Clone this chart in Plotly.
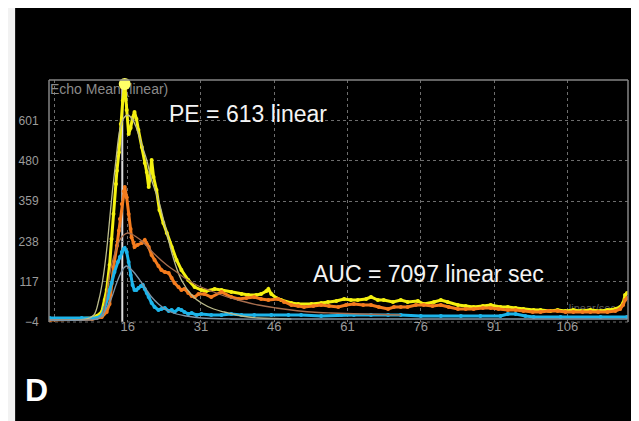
import plotly.graph_objects as go

# ---------------- data (time in s, echo mean in linear units) ----------------
yellow_t = [0, 4.6, 8.7, 9.7, 10.7, 11.3, 11.7, 12.3, 12.7, 13.1, 13.6, 13.8, 14.2, 14.6, 15.0,
            15.4, 15.8, 16.2, 16.6, 17.0, 17.4, 17.8, 18.2, 18.9, 19.5, 19.9, 20.3, 20.5, 20.9,
            21.3, 21.9, 22.5, 23.3, 24.0, 25.0, 26.0, 27.0, 28.4, 29.7, 31.1, 32.1, 33.8, 35.2,
            37.2, 39.3, 40.7, 42.3, 43.3, 44.4, 44.8, 45.4, 46.4, 47.4, 49.5, 50.9, 53.6, 55.6,
            57.0, 58.7, 60.3, 61.7, 63.1, 64.8, 65.8, 67.2, 68.4, 70.3, 71.9, 73.3, 75.4, 76.6,
            78.7, 80.1, 81.5, 83.6, 85.2, 86.8, 88.7, 90.3, 92.3, 93.8, 95.4, 97.0, 99.1, 100.5,
            102.5, 104.0, 105.6, 107.2, 108.7, 110.7, 112.8, 114.2, 115.8, 116.8, 117.4, 117.8, 118.2]
yellow_v = [5, 5, 8, 14, 26, 62, 92, 167, 245, 320, 410, 450, 505, 590, 660,
            710, 632, 560, 578, 608, 626, 605, 572, 521, 473, 446, 401, 422, 482,
            431, 392, 332, 293, 263, 221, 182, 152, 122, 101, 92, 89, 95, 92,
            86, 80, 77, 77, 80, 89, 95, 80, 68, 62, 53, 50, 50, 53,
            56, 59, 65, 62, 62, 65, 71, 62, 62, 56, 62, 56, 59, 50,
            56, 62, 56, 47, 44, 41, 44, 47, 41, 41, 38, 35, 32, 32,
            29, 32, 29, 32, 29, 32, 29, 32, 35, 41, 53, 77, 83]

orange_t = [0, 8.7, 10.7, 11.7, 12.3, 12.7, 13.1, 13.8, 14.2, 14.4, 14.8, 15.2, 15.4, 15.8, 16.2,
            16.6, 16.8, 17.2, 17.4, 18.0, 18.9, 19.5, 19.9, 20.3, 20.9, 21.5, 22.3, 22.9, 23.6,
            24.4, 25.0, 25.6, 26.4, 27.0, 27.6, 28.4, 29.1, 29.7, 30.5, 31.7, 33.1, 35.2, 37.2,
            38.7, 40.3, 41.9, 43.3, 44.8, 46.8, 48.0, 49.5, 50.9, 52.1, 54.0, 55.6, 57.2, 59.1,
            60.7, 62.3, 64.2, 65.8, 67.4, 69.3, 70.5, 71.9, 73.3, 75.0, 76.6, 78.4, 80.1, 81.7,
            83.6, 85.2, 86.8, 88.7, 90.3, 91.9, 93.8, 95.4, 97.0, 98.9, 100.5, 102.1, 104.0, 105.6,
            107.2, 109.1, 110.7, 112.3, 114.2, 115.8, 116.8, 117.4, 117.8, 118.2]
orange_v = [2, 5, 11, 26, 50, 110, 160, 225, 270, 305, 350, 388, 401, 370, 320,
            275, 250, 233, 221, 227, 233, 242, 230, 221, 197, 182, 164, 152, 146,
            143, 128, 113, 101, 92, 95, 83, 74, 71, 80, 80, 71, 86, 71,
            65, 68, 71, 65, 62, 65, 56, 47, 44, 41, 44, 47, 44, 41,
            47, 50, 47, 47, 41, 35, 41, 41, 41, 47, 47, 44, 47, 41,
            35, 35, 35, 38, 38, 35, 32, 32, 29, 26, 26, 29, 29, 26,
            26, 26, 26, 26, 26, 29, 35, 47, 62, 68]

cyan_t = [0, 6.6, 9.7, 10.7, 11.3, 11.9, 12.3, 12.7, 13.3, 14.0, 14.4, 14.8, 15.2, 15.4, 15.8,
          16.2, 16.6, 17.0, 17.4, 17.8, 18.2, 18.7, 19.1, 19.5, 19.9, 20.3, 20.9, 21.5, 22.3,
          22.9, 23.6, 24.4, 25.0, 25.6, 26.4, 27.0, 27.6, 28.4, 29.1, 30.1, 31.1, 33.1, 35.2,
          37.2, 39.3, 41.9, 45.4, 48.9, 51.5, 55.6, 59.7, 62.3, 65.8, 69.3, 71.9, 76.0, 80.1,
          84.2, 88.2, 92.3, 93.8, 95.4, 97.4, 99.1, 104.6, 112.8, 118.2]
cyan_v = [8, 8, 8, 17, 38, 68, 92, 113, 146, 176, 191, 206, 215, 218, 206,
          176, 137, 107, 92, 92, 98, 104, 107, 95, 83, 71, 53, 41, 32,
          35, 38, 29, 32, 26, 35, 32, 26, 20, 23, 17, 20, 17, 17,
          20, 17, 17, 17, 17, 17, 14, 17, 17, 17, 17, 17, 14, 14,
          14, 14, 14, 20, 20, 14, 11, 11, 11, 11]

# fitted curves
yfit_t = [0, 7.6, 9.1, 10.1, 10.9, 11.7, 12.3, 12.9, 13.6, 14.4, 15.2, 16.0, 16.8, 17.8, 18.9,
          19.9, 20.9, 22.3, 23.6, 25.0, 26.0, 27.0, 29.1, 31.1, 33.6, 35.8, 39.3, 42.7, 49.5]
yfit_v = [2, 5, 17, 62, 122, 212, 302, 392, 482, 572, 608, 617, 608, 578, 527,
          482, 422, 362, 287, 206, 158, 122, 77, 53, 35, 26, 14, 8, 5]

ofit_t = [0, 9.7, 10.7, 11.5, 12.1, 12.7, 13.6, 14.4, 15.2, 16.0, 16.8, 17.8, 18.9, 20.3, 21.9,
          24.0, 26.0, 28.0, 30.1, 33.1, 35.8, 39.3, 42.7, 46.4, 49.5, 53.6, 57.6, 63.8, 71.9]
ofit_v = [2, 5, 14, 62, 122, 167, 212, 242, 257, 263, 260, 251, 239, 218, 194,
          167, 146, 125, 107, 89, 74, 59, 47, 38, 32, 26, 23, 20, 17]

cfit_t = [0, 9.7, 10.7, 11.7, 12.7, 13.6, 14.4, 15.2, 15.8, 16.4, 17.4, 18.9, 19.9, 20.9, 22.3,
          24.0, 26.0, 28.0, 31.1, 37.2, 49.5, 71.9, 118.2]
cfit_v = [2, 5, 14, 38, 68, 107, 137, 158, 164, 158, 143, 113, 92, 71, 50,
          32, 20, 14, 8, 5, 5, 5, 5]

x_ticks = [1, 16, 31, 46, 61, 76, 91, 106]
x_ticktext = ["", "16", "31", "46", "61", "76", "91", "106"]
y_ticks = [-4, 117, 238, 359, 480, 601]
x_range = [-0.1, 118.4]
y_range = [-4, 722]
peak_time = 14.9
pe_text = "PE = 613 linear"
auc_text = "AUC = 7097 linear sec"
y_label = "Echo Mean (linear)"

YELLOW = "#f4f010"
ORANGE = "#f47c1e"
CYAN = "#1cb4ea"
GRID = "#6e6e6e"
FRAME = "#858585"
TICK = "#9c9c9c"

fig = go.Figure()

# label text drawn under the curves
fig.add_trace(go.Scatter(x=[0.1], y=[692], mode="text", text=[y_label],
                         textposition="middle right",
                         textfont=dict(family="Liberation Sans, Arial", size=14, color="#8a8a8a"),
                         hoverinfo="skip", showlegend=False))
fig.add_trace(go.Scatter(x=[111.1], y=[35], mode="text", text=["linear/sec"],
                         textposition="middle center",
                         textfont=dict(family="Liberation Sans, Arial", size=11, color="#5c5c5c"),
                         hoverinfo="skip", showlegend=False))

def data_trace(t, v, color):
    return go.Scatter(x=t, y=v, mode="lines+markers",
                      line=dict(color=color, width=3),
                      marker=dict(color=color, size=4),
                      hoverinfo="skip", showlegend=False)

fig.add_trace(data_trace(yellow_t, yellow_v, YELLOW))
fig.add_trace(data_trace(orange_t, orange_v, ORANGE))
fig.add_trace(data_trace(cyan_t, cyan_v, CYAN))

def fit_trace(t, v, color):
    return go.Scatter(x=t, y=v, mode="lines", line=dict(color=color, width=1.3, shape="spline"),
                      hoverinfo="skip", showlegend=False)

fig.add_trace(fit_trace(yfit_t, yfit_v, "#bcbc8c"))
fig.add_trace(fit_trace(ofit_t, ofit_v, "#a86e4e"))
fig.add_trace(fit_trace(cfit_t, cfit_v, "#8095a6"))

# peak marker
pk = max(range(len(yellow_v)), key=lambda i: yellow_v[i])
fig.add_trace(go.Scatter(x=[yellow_t[pk]], y=[yellow_v[pk]], mode="markers",
                         marker=dict(color="#ffff66", size=12),
                         hoverinfo="skip", showlegend=False, cliponaxis=False))

shapes = [
    # peak-time marker line
    dict(type="line", xref="x", yref="paper", x0=peak_time, x1=peak_time, y0=0, y1=1,
         line=dict(color="#dcdcdc", width=2), layer="below"),
    # frame: left, top, right solid; bottom dotted
    dict(type="line", xref="paper", yref="paper", x0=0, x1=0, y0=0, y1=1,
         line=dict(color=FRAME, width=1.5)),
    dict(type="line", xref="paper", yref="paper", x0=0, x1=1, y0=1, y1=1,
         line=dict(color=FRAME, width=1.5)),
    dict(type="line", xref="paper", yref="paper", x0=1, x1=1, y0=0, y1=1,
         line=dict(color=FRAME, width=1.5)),
    dict(type="line", xref="paper", yref="paper", x0=0, x1=1, y0=0, y1=0,
         line=dict(color=GRID, width=1.2, dash="dot"), layer="below"),
    # white page strip at left edge (page margin supplies the rest)
    dict(type="rect", xref="paper", yref="paper", x0=-0.075, x1=-0.0585, y0=-0.45, y1=1.35,
         fillcolor="#f2f2f2", line=dict(width=0)),
]

annotations = [
    dict(text=pe_text, xref="paper", yref="paper", x=0.203, y=0.86, xanchor="left",
         yanchor="middle", showarrow=False,
         font=dict(family="Liberation Sans, Arial", size=23, color="#f4f4f4")),
    dict(text=auc_text, xref="paper", yref="paper", x=0.453, y=0.198, xanchor="left",
         yanchor="middle", showarrow=False,
         font=dict(family="Liberation Sans, Arial", size=23, color="#f4f4f4")),
    dict(text="<b>D</b>", xref="paper", yref="paper", x=-0.045, y=-0.281, xanchor="left",
         yanchor="middle", showarrow=False,
         font=dict(family="Liberation Sans, Arial", size=32, color="#ffffff")),
]

fig.update_layout(
    width=631, height=413,
    margin=dict(l=39, r=11, t=72, b=99),
    paper_bgcolor="#000000", plot_bgcolor="#000000",
    showlegend=False,
    shapes=shapes, annotations=annotations,
    xaxis=dict(range=x_range, tickmode="array", tickvals=x_ticks, ticktext=x_ticktext,
               showgrid=True, gridcolor=GRID, griddash="dot", gridwidth=1.2,
               zeroline=False, showline=False,
               ticks="", ticklabelstandoff=-5,
               tickfont=dict(family="Liberation Sans, Arial", size=13, color=TICK)),
    yaxis=dict(range=y_range, tickmode="array", tickvals=y_ticks,
               showgrid=True, gridcolor=GRID, griddash="dot", gridwidth=1.2,
               zeroline=False, showline=False,
               ticks="outside", ticklen=7, tickcolor="rgba(0,0,0,0)",
               tickfont=dict(family="Liberation Sans, Arial", size=12, color=TICK)),
)

fig.write_html("out.html")
